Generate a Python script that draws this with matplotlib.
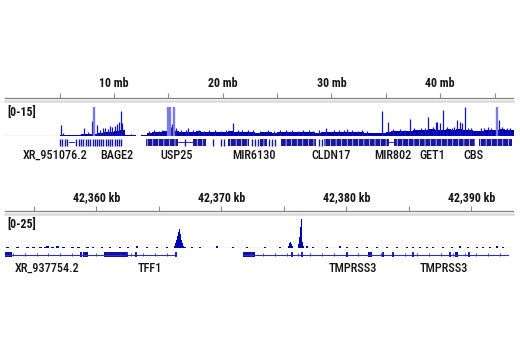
# Two-panel genome browser view: chr21 overview and TFF1/TMPRSS3 close-up
import matplotlib
matplotlib.use('Agg')
import matplotlib.pyplot as plt
import numpy as np
from matplotlib import font_manager
from matplotlib.lines import Line2D
from matplotlib.patches import Rectangle

# ---------------- data: chromosome overview (mb) ----------------
chr_len = 46.7
ruler_ticks_mb = [5, 10, 15, 20, 25, 30, 35, 40, 45]
ruler_labels_mb = [10, 20, 30, 40]

# coverage in 0.5 mb bins starting at 0 mb
cov_bin = 0.5
cov_mb = [0, 0, 0, 0, 0, 0, 0, 0, 0, 0,
          0.4, 0.3, 0.5, 0.6, 0.7, 1.0, 0.9, 1.4, 1.7, 2.0,
          2.4, 3.2, 0.4, 0.2, 0, 0.6, 1.6, 1.8, 1.9, 2.2,
          2.6, 2.4, 2.0, 2.1, 1.9, 2.2, 2.0, 1.9, 2.1, 1.8,
          2.0, 2.2, 1.9, 1.8, 2.0, 1.9, 1.6, 1.7, 1.8, 1.6,
          1.7, 1.9, 1.8, 1.7, 1.9, 1.8, 1.7, 1.6, 1.8, 1.9,
          2.0, 1.8, 1.7, 1.9, 1.8, 1.7, 1.6, 1.3, 1.2, 1.4,
          2.0, 2.2, 2.4, 2.3, 2.6, 2.8, 3.0, 3.1, 3.3, 3.2,
          3.1, 3.4, 3.2, 3.3, 3.1, 3.2, 2.2, 2.6, 2.8, 3.0,
          3.2, 3.4, 3.2, 3.0]

# narrow peaks (position mb, height)
peak_mb = [5.11, 5.29, 7.25, 7.59, 7.93, 8.20, 8.39, 8.69, 8.96, 9.15,
           9.42, 9.61, 9.83, 10.06, 10.29, 10.46, 10.61, 10.71, 11.60,
           13.2, 13.7, 14.1, 14.4, 14.95, 15.11, 15.27, 15.36, 15.50, 15.66,
           16.2, 16.6, 16.79, 17.3, 17.8, 18.3, 18.7, 19.3, 19.8, 20.3,
           20.92, 21.4, 21.8, 22.3, 22.8, 23.4, 24.2, 24.7, 25.3, 25.8,
           26.4, 26.9, 27.4, 27.9, 28.3, 28.9, 29.49, 30.2, 30.7, 31.2,
           31.47, 31.9, 32.4, 32.8, 33.3, 34.68, 35.23, 35.7, 36.3, 36.8,
           37.25, 37.6, 38.2, 38.6, 38.90, 39.3, 39.58, 39.72, 39.97, 40.27,
           40.6, 41.1, 41.3, 41.56, 41.87, 42.02, 42.33, 42.54, 42.8, 43.8,
           44.01, 44.4, 44.7, 45.23, 45.39, 45.7, 46.15, 46.4]
peak_h = [5.3, 1.5, 4.0, 2.0, 7.5, 15, 5.5, 3.0, 4.0, 4.2,
          3.5, 5.0, 4.5, 5.2, 6.0, 7.2, 13.0, 6.5, 0.8,
          2.6, 2.9, 2.4, 3.0, 15, 15, 4.5, 6.0, 15, 4.0,
          2.8, 3.1, 4.0, 2.7, 3.2, 2.6, 3.0, 2.9, 2.5, 3.1,
          6.5, 2.8, 3.2, 2.7, 3.0, 2.5, 2.9, 2.6, 3.0, 2.7,
          3.1, 2.6, 2.9, 3.2, 2.6, 2.8, 4.0, 3.0, 2.7, 2.9,
          3.5, 3.1, 2.6, 2.8, 2.5, 12.8, 7.2, 3.3, 3.6, 3.2,
          8.6, 4.0, 4.2, 3.8, 9.5, 4.3, 7.0, 7.3, 6.4, 13.3,
          4.4, 4.0, 4.6, 8.1, 6.9, 6.5, 14.9, 4.0, 4.1, 3.8,
          4.0, 4.3, 4.0, 15, 8.0, 4.4, 4.0, 4.1]

# gene annotation: single exon ticks, dense clusters, connecting lines
gene_tick_mb = [5.02, 5.25, 5.48, 5.66, 6.49, 6.76, 6.94, 7.17, 7.40, 7.59,
                7.77, 8.05, 8.23, 8.41, 8.60, 8.83, 9.01, 9.24, 9.42, 9.61,
                9.79, 10.06, 10.25, 10.43, 10.61, 16.5, 19.06, 19.88, 20.16,
                22.72, 22.99, 23.26, 23.55, 24.28, 24.53, 24.81, 28.87, 29.15]
gene_block_mb = [(12.91, 15.84), (17.22, 18.50), (20.52, 22.45), (23.4, 24.1),
                 (25.39, 28.60), (29.33, 35.30), (35.75, 43.18), (43.55, 46.58)]
gene_line_mb = [(5.85, 6.30), (15.84, 17.22), (35.30, 35.75)]
gene_names_mb = ['XR_951076.2', 'BAGE2', 'USP25', 'MIR6130', 'CLDN17',
                 'MIR802', 'GET1', 'CBS']
gene_pos_mb = [4.61, 10.25, 15.75, 22.91, 29.97, 35.61, 39.24, 43.05]

# ---------------- data: close-up (kb) ----------------
zoom_start, zoom_end = 42352.7, 42393.34
ruler_ticks_kb = [42355, 42360, 42365, 42370, 42375, 42380, 42385, 42390]
ruler_labels_kb = [42360, 42370, 42380, 42390]

bump_kb = [42352.86, 42353.66, 42354.46, 42354.94, 42355.50, 42355.90, 42356.06,
           42356.46, 42356.86, 42357.34, 42358.06, 42358.54, 42359.26, 42359.74,
           42360.46, 42361.10, 42361.90, 42362.54, 42363.26, 42364.06, 42364.86,
           42365.66, 42367.10, 42367.66, 42368.30, 42369.66, 42370.94, 42372.06,
           42373.50, 42374.70, 42376.84, 42377.34, 42378.44, 42379.50, 42380.06,
           42380.84, 42381.64, 42382.44, 42383.24, 42384.04, 42384.84, 42385.34,
           42385.90, 42386.44, 42386.94, 42387.74, 42388.44, 42389.10, 42389.74,
           42390.44, 42390.94, 42391.50, 42392.04, 42392.54]
bump_h = [0.8, 0.7, 0.9, 0.7, 1.2, 1.0, 1.6, 0.9, 1.4, 0.8, 1.0, 0.8, 1.1, 0.9,
          1.2, 0.8, 1.0, 0.7, 1.5, 0.9, 0.8, 1.0, 1.2, 0.9, 1.0, 1.3, 0.8, 1.1,
          1.0, 0.9, 1.4, 0.8, 1.0, 1.3, 1.0, 0.9, 1.1, 0.8, 1.0, 0.9, 1.2, 0.8,
          1.0, 1.1, 0.9, 1.2, 0.8, 1.3, 1.0, 0.9, 1.2, 1.0, 1.3, 0.9]

# TFF1 promoter peak and the peak inside TMPRSS3
tff1_kb = [42366.24, 42366.32, 42366.40, 42366.48, 42366.56, 42366.62,
           42366.70, 42366.78, 42366.84, 42366.90, 42366.96]
tff1_h = [1.5, 4.0, 7.0, 10.0, 14.0, 16.5, 12.0, 7.0, 4.5, 3.0, 2.0]
tmprss_kb = [42375.38, 42375.46, 42375.54, 42375.62, 42375.70, 42376.18,
             42376.26, 42376.32, 42376.38, 42376.44, 42376.50, 42376.58]
tmprss_h = [2.0, 4.5, 5.2, 3.0, 1.5, 3.0, 9.0, 18.0, 24.5, 14.0, 5.0, 2.0]

# transcripts: (start, end) lines, thick blocks, exon ticks
tx_line_kb = [(42352.7, 42366.40), (42371.76, 42392.94)]
tx_block_kb = [(42352.7, 42353.24), (42358.70, 42358.86), (42358.94, 42359.28),
               (42360.62, 42362.38), (42371.76, 42372.70), (42381.74, 42382.06),
               (42388.70, 42388.94)]
tx_exon_kb = [42362.44, 42363.16, 42366.34, 42375.64, 42376.46, 42380.04,
              42382.96, 42383.76, 42385.34, 42388.28, 42389.84]
tx_names = ['XR_937754.2', 'TFF1', 'TMPRSS3', 'TMPRSS3']
tx_pos_kb = [42356.02, 42364.26, 42380.54, 42387.78]

# ---------------- fonts: a narrow sans if one is around ----------------
fonts = font_manager.fontManager.ttflist
names = {f.name for f in fonts}
font_kw = {'family': 'Liberation Sans'}
for narrow in ['Liberation Sans Narrow', 'Roboto Condensed', 'PT Sans Narrow']:
    if narrow in names:
        font_kw = {'family': narrow}
        break
else:
    if any(f.name == 'DejaVu Sans' and f.stretch == 'condensed' for f in fonts):
        font_kw = {'family': 'DejaVu Sans', 'stretch': 'condensed'}
plt.rcParams['hatch.linewidth'] = 0.45

W, H = 520, 350
fig = plt.figure(figsize=(W / 100, H / 100), dpi=100)
X0, X1 = 5.3, 513.0

blue = '#0000b2'
light = '#7c7ce6'
text_c = '#161616'


def box(y0, y1):
    # axes placed by pixel rows, spanning the track width
    return fig.add_axes([X0 / W, 1 - y1 / H, (X1 - X0) / W, (y1 - y0) / H])


def ruler(y0, y1, lo, hi, ticks, labels, fmt):
    ax = box(y0, y1)
    ax.set_xlim(lo, hi)
    ax.set_ylim(0, 1)
    for s in ['top', 'left', 'right']:
        ax.spines[s].set_visible(False)
    ax.spines['bottom'].set_color('#808080')
    ax.spines['bottom'].set_linewidth(0.9)
    ax.set_yticks([])
    ax.set_xticks(ticks)
    ax.tick_params(axis='x', direction='in', length=3.4, width=0.8,
                   color='#8a8a8a', labelbottom=False)
    for v in labels:
        ax.text(v, 0.5, fmt(v), ha='center', va='center', fontsize=8.6,
                fontweight='bold', color=text_c, **font_kw)
    sep = (y1 + 3.0)
    fig.add_artist(Line2D([X0 / W, X1 / W], [1 - sep / H] * 2,
                          color='#dadada', lw=1.8))
    return ax


def scale_label(y, txt):
    fig.text(7 / W, 1 - y / H, txt, ha='left', va='center', fontsize=8.6,
             fontweight='bold', color=text_c, **font_kw)


# ---------------- panel 1: whole chromosome ----------------
ruler(70, 97.7, 0, chr_len, ruler_ticks_mb, ruler_labels_mb,
      lambda v: f'{v} mb')
scale_label(112, '[0-15]')

ax1 = box(106.7, 135.7)
ax1.set_xlim(0, chr_len)
ax1.set_ylim(0, 15)
ax1.axis('off')
edges = np.arange(len(cov_mb) + 1) * cov_bin
vals = cov_mb + cov_mb[-1:]
ax1.fill_between(edges, vals, step='post', color=blue, lw=0)
ph = np.array(peak_h)
pm = np.array(peak_mb)
low = ph < 15
ax1.vlines(pm[low], 0, ph[low], color='#1414bc', lw=0.9)
ax1.vlines(pm[~low], 0, ph[~low], color=light, lw=1.7)
ax1.axhline(0, color='#4646cc', lw=0.8)

g1 = box(138, 147)
g1.set_xlim(0, chr_len)
g1.set_ylim(0, 1)
g1.axis('off')
for a, b in gene_line_mb:
    g1.plot([a, b], [0.5, 0.5], color='#2a2ab8', lw=0.7)
for a, b in gene_block_mb:
    g1.add_patch(Rectangle((a, 0.15), b - a, 0.7, facecolor='#1717a4',
                           edgecolor='white', hatch='|||', lw=0))
g1.vlines(gene_tick_mb, 0.15, 0.85, color='#1717a4', lw=1.0)
for name, x in zip(gene_names_mb, gene_pos_mb):
    g1.text(x, -0.9, name, ha='center', va='center', fontsize=8.8,
            fontweight=500, color=text_c, **font_kw)

# ---------------- panel 2: TFF1 / TMPRSS3 region ----------------
ruler(184, 211, zoom_start, zoom_end, ruler_ticks_kb, ruler_labels_kb,
      lambda v: f'{v:,} kb')
scale_label(225, '[0-25]')

ax2 = box(218.7, 248)
ax2.set_xlim(zoom_start, zoom_end)
ax2.set_ylim(0, 25)
ax2.axis('off')
ax2.bar(bump_kb, bump_h, width=0.2, color=blue, lw=0)
ax2.bar(tff1_kb, tff1_h, width=0.09, color=blue, lw=0)
ax2.bar(tmprss_kb, tmprss_h, width=0.09, color=blue, lw=0)
ax2.axhline(0, color='#4646cc', lw=0.8)

g2 = box(250, 259)
g2.set_xlim(zoom_start, zoom_end)
g2.set_ylim(0, 1)
g2.axis('off')
for a, b in tx_line_kb:
    g2.plot([a, b], [0.5, 0.5], color='#3030c0', lw=0.8)
    # strand marks along the intron line
    g2.vlines(np.arange(a + 0.6, b, 0.95), 0.38, 0.62, color='#3030c0', lw=0.6)
for a, b in tx_block_kb:
    g2.add_patch(Rectangle((a, 0.25), b - a, 0.5, facecolor='#1010a8', lw=0))
g2.vlines(tx_exon_kb, 0.2, 0.8, color='#1010a8', lw=1.3)
for name, x in zip(tx_names, tx_pos_kb):
    g2.text(x, -1.0, name, ha='center', va='center', fontsize=8.8,
            fontweight=500, color=text_c, **font_kw)

fig.savefig('out.png', dpi=100)
